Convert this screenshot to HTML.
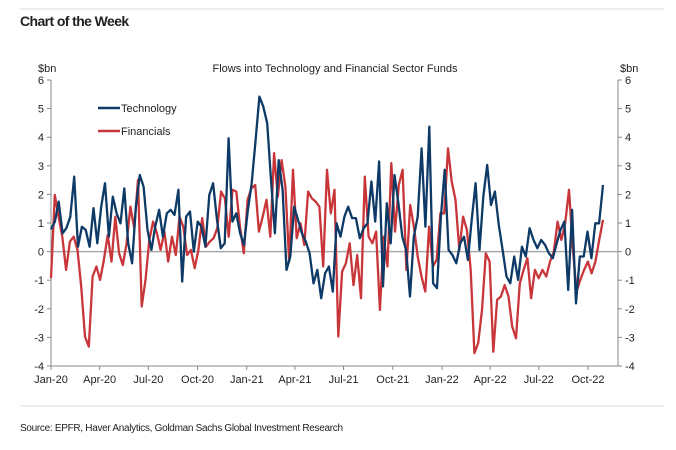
<!DOCTYPE html>
<html><head><meta charset="utf-8"><style>
html,body{margin:0;padding:0;background:#fff;}
body{width:676px;height:445px;overflow:hidden;position:relative;font-family:"Liberation Sans",sans-serif;}
svg text{font-family:"Liberation Sans",sans-serif;fill:#222;}
</style></head><body>
<svg id="c" width="676" height="445">
<line x1="20" y1="9" x2="664" y2="9" stroke="#ddd"/>
<text x="20" y="26" font-size="14" font-weight="bold" style="letter-spacing:-0.6px">Chart of the Week</text>
<text x="335" y="72" font-size="11" text-anchor="middle">Flows into Technology and Financial Sector Funds</text>
<text x="38" y="72" font-size="11">$bn</text>
<text x="620" y="72" font-size="11">$bn</text>
<line x1="20" y1="406" x2="664" y2="406" stroke="#ddd"/>
<text x="20" y="431" font-size="10" style="letter-spacing:-0.3px">Source: EPFR, Haver Analytics, Goldman Sachs Global Investment Research</text>
<g id="axes"></g>
<g id="series"></g>
<g>
<line x1="98" y1="108" x2="120" y2="108" stroke="#0d3a66" stroke-width="2.5"/>
<text x="121" y="112" font-size="11">Technology</text>
<line x1="98" y1="131" x2="120" y2="131" stroke="#c8363a" stroke-width="2.5"/>
<text x="121" y="135" font-size="11">Financials</text>
</g>
</svg>
<script>
const tickLabels=["Jan-20","Apr-20","Jul-20","Oct-20","Jan-21","Apr-21","Jul-21","Oct-21","Jan-22","Apr-22","Jul-22","Oct-22"];
const tickDays=[0,91,182,274,366,456,547,639,731,821,912,1004];
const yTicks=[6,5,4,3,2,1,0,-1,-2,-3,-4];
const seriesEndDay=1032;
const technology=[0.78,1.05,1.75,0.64,0.82,1.22,2.62,0.17,0.87,0.76,0.17,1.52,0.29,1.57,2.39,0.52,1.92,1.34,0.99,2.21,0.29,-0.41,1.57,2.68,2.27,0.76,0.06,0.87,1.46,0.52,1.34,1.46,1.28,2.16,-1.05,1.22,1.40,0,1.05,0.87,0.17,1.98,2.39,1.11,0.12,0.29,3.96,1.05,1.34,0.64,0.23,1.46,2.39,3.9,5.42,5.07,4.49,2.51,0.64,3.2,2.16,-0.64,-0.17,1.57,1.11,0.64,0.35,-0.06,-1.11,
-0.64,-1.63,-0.76,-0.52,-1.4,0.99,0.52,1.22,1.57,1.17,1.17,0.47,0.82,0.99,2.45,1.05,3.15,-1.22,1.69,0.29,2.68,1.69,0.52,0.06,-1.57,0.52,1.22,3.61,0.87,4.37,-1.11,-1.28,1.22,2.86,0.06,-0.12,-0.41,0.29,0.52,-0.29,1.11,2.39,0.06,1.92,3.03,1.63,2.1,0.93,0.06,-0.87,-1.11,-0.17,-0.99,0.17,-0.17,0.82,0.41,0.12,0.41,0.23,-0.06,-0.23,0.29,0.76,1.05,-1.34,1.46,-1.81,-0.17,-0.17,0.7,-0.23,0.99,0.99,2.33];
const financials=[-0.93,1.98,1.22,0.52,-0.64,0.35,0.52,0.06,-1.22,-2.97,-3.32,-0.87,-0.52,-0.99,-0.29,0.58,-0.35,1.22,-0.06,-0.47,0.29,1.57,0.82,2.51,-1.92,-0.99,0.41,1.05,0.64,0.06,0.7,-0.35,0.52,-0.12,1.22,0.87,-0.12,0.06,-0.58,0.06,1.17,0.17,0.35,0.47,0.82,2.1,1.86,0.52,2.16,2.1,0.87,-0.06,1.81,2.21,2.33,0.7,1.22,1.81,0.52,3.44,1.92,3.2,2.27,-0.35,2.86,0.47,0.99,0.23,2.1,1.86,1.75,1.57,-0.52,
2.86,1.34,2.16,-2.97,-0.7,-0.41,0.29,-1.17,-0.12,-1.63,2.62,0.52,0.29,0.7,-2.04,0.52,-0.52,3.09,0.7,2.33,2.86,-0.64,1.63,0.87,-0.17,-0.87,-1.4,0.87,-0.52,-0.29,1.34,1.34,3.61,2.45,1.81,0.06,1.22,0.76,-0.64,-3.55,-3.2,-2.04,-0.06,-0.35,-3.5,-1.69,-1.57,-1.17,-1.57,-2.62,-3.03,-1.11,-0.64,-0.23,-1.63,-0.64,-0.93,-0.64,-0.87,-0.35,0,1.05,0.41,0.99,2.16,0.17,-1.4,-0.99,-0.64,-0.35,-0.76,-0.35,0.41,1.11];

const X0=51,X1=588,Y0=80,Y1=366,RX=618;
const xs=d=>X0+d*(X1-X0)/1004;
const ys=v=>Y1-(v+4)*(Y1-Y0)/10;
const NS="http://www.w3.org/2000/svg";
const ax=document.getElementById('axes'),sg=document.getElementById('series');
function mk(tag,attrs,parent){const e=document.createElementNS(NS,tag);for(const k in attrs)e.setAttribute(k,attrs[k]);parent.appendChild(e);return e;}
let e;
e=mk('line',{x1:X0,y1:Y0,x2:X0,y2:Y1,stroke:'#888'},ax);


e=mk('line',{x1:RX,y1:Y0,x2:RX,y2:Y1,stroke:'#888'},ax);


e=mk('line',{x1:X0,y1:Y1,x2:RX,y2:Y1,stroke:'#888'},ax);


e=mk('line',{x1:X0,y1:ys(0),x2:RX,y2:ys(0),stroke:'#aaa','stroke-width':1.5},ax);


yTicks.forEach(v=>{
  const y=ys(v);
  mk('line',{x1:X0-4,y1:y,x2:X0,y2:y,stroke:'#888'},ax);
  mk('line',{x1:RX,y1:y,x2:RX+4,y2:y,stroke:'#888'},ax);
  e=mk('text',{x:X0-7,y:y+4,'font-size':11,'text-anchor':'end'},ax);e.textContent=v;
  
  
  e=mk('text',{x:RX+7,y:y+4,'font-size':11},ax);e.textContent=v;
  
  
});
tickDays.forEach((d,i)=>{
  const x=xs(d);
  mk('line',{x1:x,y1:Y1,x2:x,y2:Y1+4,stroke:'#888'},ax);
  e=mk('text',{x:x,y:Y1+17,'font-size':11,'text-anchor':'middle'},ax);e.textContent=tickLabels[i];
  
  
});
function line(vals,color,name){
  const n=vals.length;
  const pts=vals.map((v,i)=>xs(i*seriesEndDay/(n-1)).toFixed(1)+','+ys(v).toFixed(1)).join(' ');
  const p=mk('polyline',{points:pts,fill:'none',stroke:color,'stroke-width':2.3,'stroke-linejoin':'round'},sg);
  
  
}
line(financials,'#c8363a','financials-line');
line(technology,'#0d3a66','technology-line');
</script>
</body></html>
